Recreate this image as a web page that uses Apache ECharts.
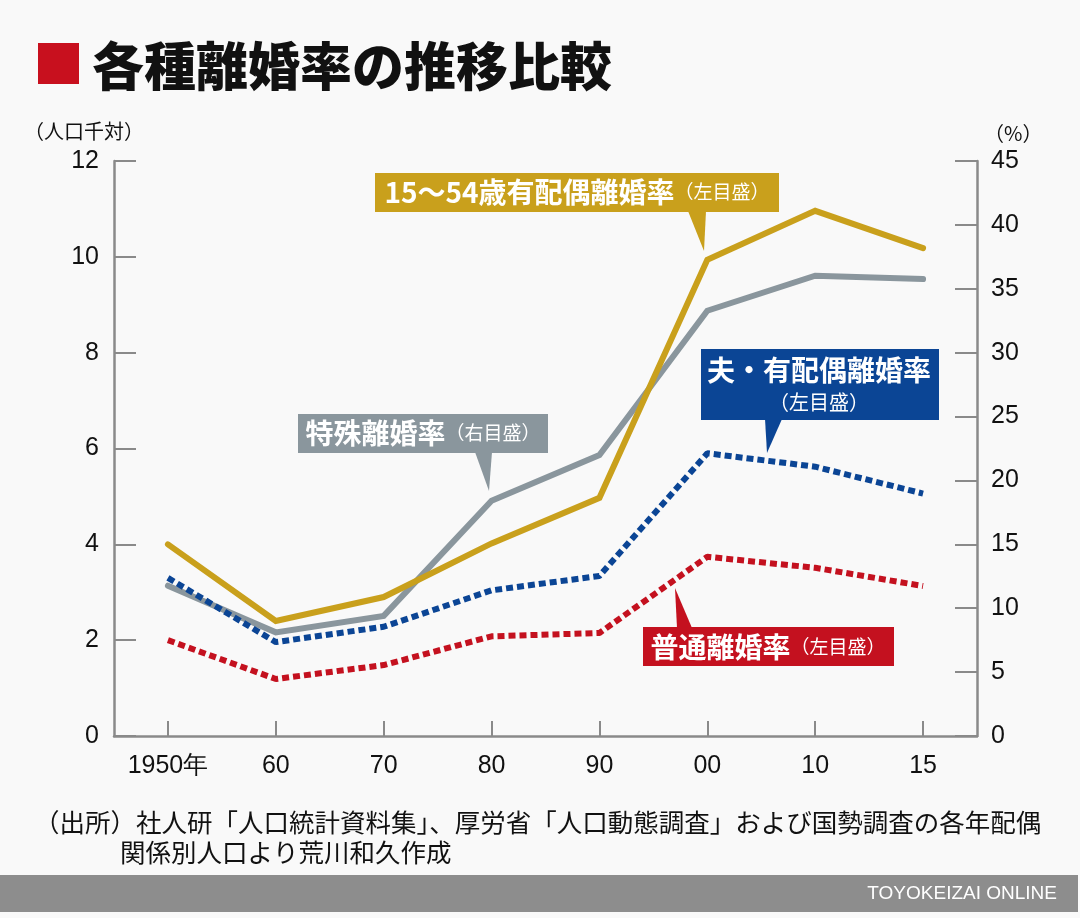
<!DOCTYPE html>
<html>
<head>
<meta charset="utf-8">
<script src="https://cdn.jsdelivr.net/npm/echarts@6/dist/echarts.min.js"></script>
<style>
html,body{margin:0;padding:0;background:#f9f9f9;}
#c{width:1080px;height:918px;}
</style>
</head>
<body>
<div id="c"></div>
<script>
var categories = ['1950年', '60', '70', '80', '90', '00', '10', '15'];
var married1554Rate = [4.0, 2.4, 2.9, 4.02, 4.97, 9.94, 10.96, 10.18];
var specialRate = [11.76, 8.11, 9.4, 18.41, 21.99, 33.28, 36.02, 35.76];
var husbandMarriedRate = [3.3, 1.96, 2.28, 3.04, 3.34, 5.9, 5.62, 5.06];
var crudeRate = [2.0, 1.19, 1.48, 2.08, 2.15, 3.74, 3.51, 3.13];
var leftTicks = { min: 0, max: 12, interval: 2 };
var rightTicks = { min: 0, max: 45, interval: 5 };

var JP = '"Noto Sans CJK JP", "Noto Sans", sans-serif';
var NUM = '"Liberation Sans", Arial, sans-serif';
var AX = '#8a8a8a';
var GOLD = '#c9a01c', GRAY = '#8a969d', BLUE = '#0b4595', RED = '#c4111f';

var chart = echarts.init(document.getElementById('c'), null, { renderer: 'canvas' });

function callout(boxX, boxY, boxW, boxH, fill, tri, texts) {
  var children = [
    { type: 'rect', shape: { x: boxX, y: boxY, width: boxW, height: boxH }, style: { fill: fill } },
    { type: 'polygon', shape: { points: tri }, style: { fill: fill } }
  ];
  texts.forEach(function (t) {
    children.push({
      type: 'text',
      style: {
        x: t.x, y: t.y, text: t.text, rich: t.rich,
        align: 'center', verticalAlign: 'middle', fill: '#fff', font: t.font
      }
    });
  });
  return { type: 'group', z: 100, children: children };
}

var richMain = function (size) {
  return {
    a: { fontFamily: JP, fontSize: size, fontWeight: 'bold', color: '#fff' },
    b: { fontFamily: JP, fontSize: 19, fontWeight: 'normal', color: '#fff' }
  };
};

var option = {
  backgroundColor: '#f9f9f9',
  animation: false,
  grid: { left: 114, right: 103, top: 161, bottom: 182, containLabel: false },
  xAxis: {
    type: 'category',
    data: categories,
    boundaryGap: true,
    axisLine: { show: true, lineStyle: { color: AX, width: 2.5 } },
    axisTick: { show: true, alignWithLabel: true, inside: true, length: 15, lineStyle: { color: AX, width: 2 } },
    axisLabel: { margin: 18, fontSize: 25, color: '#111', fontFamily: NUM },
    splitLine: { show: false }
  },
  yAxis: [
    {
      type: 'value', position: 'left',
      min: leftTicks.min, max: leftTicks.max, interval: leftTicks.interval,
      axisLine: { show: true, lineStyle: { color: AX, width: 2.5 } },
      axisTick: { show: true, inside: true, length: 22, lineStyle: { color: AX, width: 2 } },
      axisLabel: { margin: 15, fontSize: 25, color: '#111', fontFamily: NUM },
      splitLine: { show: false }
    },
    {
      type: 'value', position: 'right',
      min: rightTicks.min, max: rightTicks.max, interval: rightTicks.interval,
      axisLine: { show: true, lineStyle: { color: AX, width: 2.5 } },
      axisTick: { show: true, inside: true, length: 22, lineStyle: { color: AX, width: 2 } },
      axisLabel: { margin: 14, fontSize: 25, color: '#111', fontFamily: NUM },
      splitLine: { show: false }
    }
  ],
  series: [
    {
      name: '特殊離婚率', type: 'line', yAxisIndex: 1, data: specialRate,
      symbol: 'none', lineStyle: { color: GRAY, width: 6, cap: 'round', join: 'miter' }, z: 2
    },
    {
      name: '普通離婚率', type: 'line', yAxisIndex: 0, data: crudeRate,
      symbol: 'none', lineStyle: { color: RED, width: 6, type: [7, 4], cap: 'butt' }, z: 3
    },
    {
      name: '夫・有配偶離婚率', type: 'line', yAxisIndex: 0, data: husbandMarriedRate,
      symbol: 'none', lineStyle: { color: BLUE, width: 6, type: [7, 4], cap: 'butt' }, z: 4
    },
    {
      name: '15〜54歳有配偶離婚率', type: 'line', yAxisIndex: 0, data: married1554Rate,
      symbol: 'none', lineStyle: { color: GOLD, width: 6, cap: 'round', join: 'miter' }, z: 5
    }
  ],
  graphic: [
    { type: 'rect', shape: { x: 38, y: 43, width: 41, height: 41 }, style: { fill: '#c8101e' } },
    { type: 'text', style: { x: 92, y: 66, text: '各種離婚率の推移比較', font: '900 52px ' + JP, fill: '#111', verticalAlign: 'middle' } },
    { type: 'text', style: { x: 24, y: 131, text: '（人口千対）', font: '20px ' + JP, fill: '#111', verticalAlign: 'middle' } },
    { type: 'text', style: { x: 984, y: 133, text: '（%）', font: '20px ' + JP, fill: '#111', verticalAlign: 'middle' } },
    callout(375, 173, 404, 39, GOLD, [[688, 211], [706, 211], [704, 251]], [
      { x: 577, y: 192, text: '{a|15〜54歳有配偶離婚率}{b|（左目盛）}', rich: richMain(28) }
    ]),
    callout(701, 349, 238, 71, BLUE, [[765, 419], [782, 419], [767, 453]], [
      { x: 819, y: 370, text: '夫・有配偶離婚率', font: 'bold 28px ' + JP },
      { x: 819, y: 402, text: '（左目盛）', font: '20px ' + JP }
    ]),
    callout(298, 414, 250, 39, GRAY, [[475, 452], [492, 452], [489, 491]], [
      { x: 423, y: 433, text: '{a|特殊離婚率}{b|（右目盛）}', rich: richMain(28) }
    ]),
    callout(643, 627, 251, 39, RED, [[675, 588], [677, 628], [692, 628]], [
      { x: 768, y: 647, text: '{a|普通離婚率}{b|（左目盛）}', rich: richMain(28) }
    ]),
    { type: 'text', style: { x: 34, y: 822, text: '（出所）社人研「人口統計資料集」、厚労省「人口動態調査」および国勢調査の各年配偶', font: '25.5px ' + JP, fill: '#111', verticalAlign: 'middle' } },
    { type: 'text', style: { x: 120, y: 852, text: '関係別人口より荒川和久作成', font: '25.5px ' + JP, fill: '#111', verticalAlign: 'middle' } },
    { type: 'rect', shape: { x: 0, y: 875, width: 1078, height: 37 }, style: { fill: '#8d8d8d' } },
    { type: 'text', style: { x: 1057, y: 894, text: 'TOYOKEIZAI ONLINE', font: '19px ' + NUM, fill: '#fff', align: 'right', verticalAlign: 'middle' } }
  ]
};
chart.setOption(option);
</script>
</body>
</html>
